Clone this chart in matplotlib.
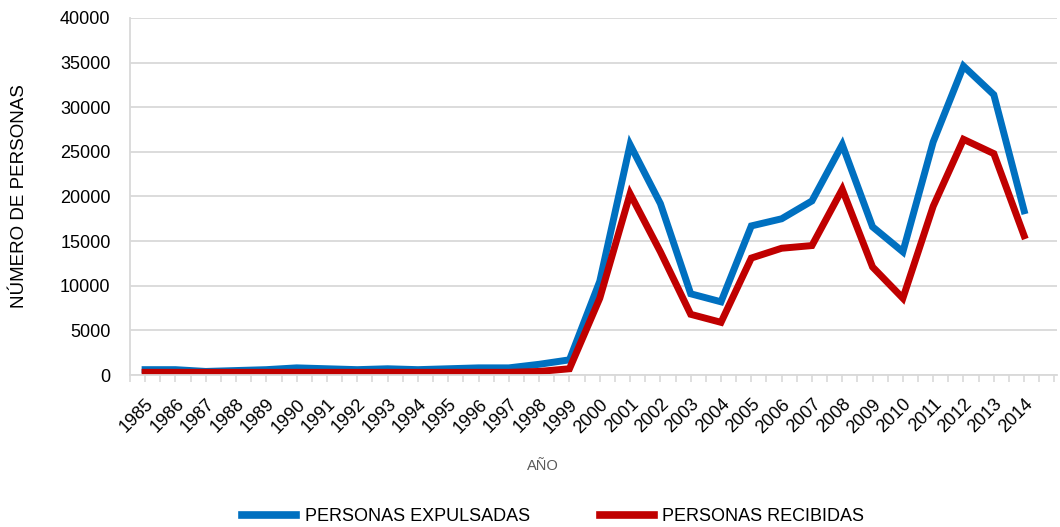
import numpy as np
import matplotlib.pyplot as plt
from matplotlib.ticker import MultipleLocator

plt.rcParams['font.family'] = ['Liberation Sans', 'DejaVu Sans']

years = [str(y) for y in range(1985, 2015)]
expulsadas = [600, 600, 400, 500, 600, 800, 700, 600, 700, 600,
              700, 800, 800, 1200, 1700, 10500, 25800, 19200, 9100, 8200,
              16700, 17500, 19500, 25800, 16600, 13800, 26100, 34600, 31400, 18400]
recibidas = [300, 300, 300, 300, 300, 300, 300, 300, 300, 300,
             300, 300, 300, 400, 700, 8600, 20300, 13800, 6800, 5900,
             13100, 14200, 14500, 20800, 12100, 8600, 18900, 26400, 24800, 15600]

fig = plt.figure(figsize=(10.6, 5.27), dpi=100)
ax = fig.add_axes([0.1226, 0.2884, 0.875, 0.6776])

x = np.arange(len(years))
ax.plot(x, expulsadas, color='#0070C0', lw=5, label='PERSONAS EXPULSADAS', solid_joinstyle='miter')
ax.plot(x, recibidas, color='#C00000', lw=5, label='PERSONAS RECIBIDAS', solid_joinstyle='miter')

ax.set_xlim(-0.5, 30.1)
ax.set_ylim(0, 40000)
ax.yaxis.set_major_locator(MultipleLocator(5000))
ax.grid(axis='y', color='#d9d9d9', lw=1.3)
ax.set_axisbelow(True)

# etiquetas de años giradas
ax.set_xticks(x)
ax.set_xticklabels(years, rotation=45, ha='right', va='top', rotation_mode='anchor', fontsize=13)
ax.xaxis.set_minor_locator(MultipleLocator(0.5))
ax.tick_params(axis='x', which='both', length=5, color='#d9d9d9', width=1.2, pad=10)
ax.tick_params(axis='y', length=0, labelsize=13, pad=14)

for s in ['top', 'right']:
    ax.spines[s].set_visible(False)
for s in ['left', 'bottom']:
    ax.spines[s].set_color('#d9d9d9')
    ax.spines[s].set_linewidth(1.3)

ax.set_ylabel('NÚMERO DE PERSONAS', fontsize=13.5)
ax.yaxis.set_label_coords(-0.11, 0.5)
fig.text(0.512, 0.115, 'AÑO', color='#595959', fontsize=10.5, ha='center', va='center')

leg = fig.legend(loc='center', bbox_to_anchor=(0.522, 0.019), ncol=2, frameon=False,
                 fontsize=13, handlelength=3, columnspacing=3.9, handletextpad=0.45)
for h in leg.get_lines():
    h.set_linewidth(5.5)

fig.savefig('out.png', dpi=100)
